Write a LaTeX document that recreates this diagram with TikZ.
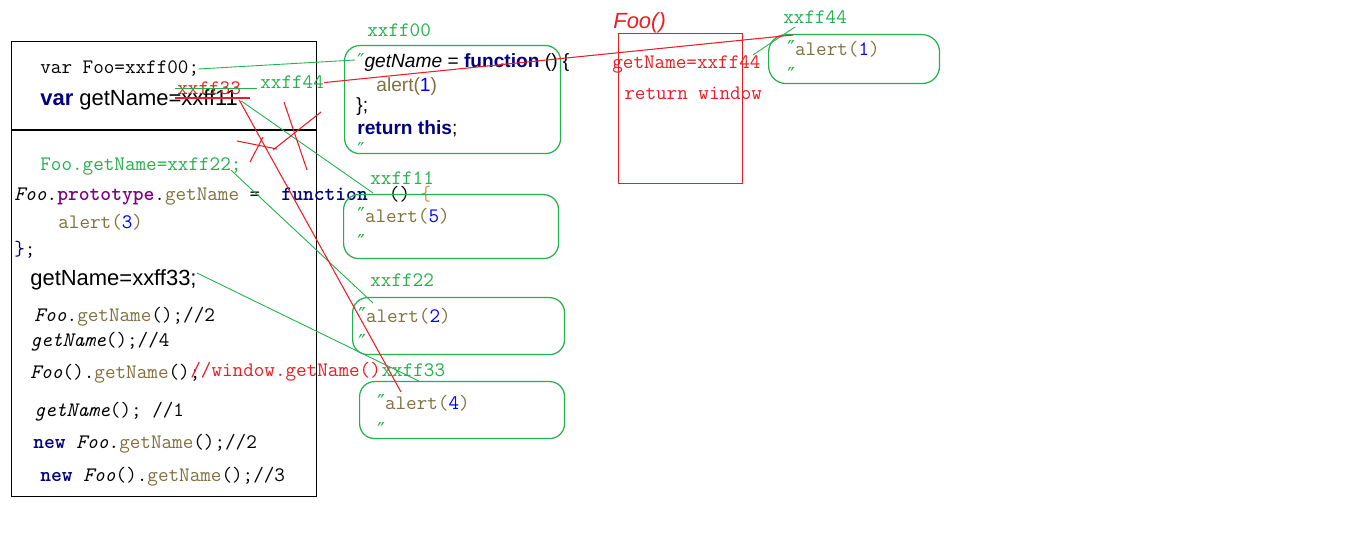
\documentclass[tikz,border=0pt]{standalone}
\usepackage{fontspec}
\setsansfont{Liberation Sans}
\newfontfamily\symfont{DejaVu Sans}
\usepackage{xcolor}
\usepackage{tikz}
\usetikzlibrary{calc,positioning}

\definecolor{lgreen}{RGB}{34,177,76}
\definecolor{lred}{RGB}{237,28,36}
\definecolor{kwnavy}{RGB}{0,0,128}
\definecolor{alertbrown}{RGB}{128,112,64}
\definecolor{protopurple}{RGB}{128,0,128}
\definecolor{numblue}{RGB}{0,0,255}
\definecolor{braceorange}{RGB}{225,140,60}

\newcommand\dquo{\textcolor{lgreen}{\symfont ″}}
\newcommand\alertcall[1]{\textcolor{alertbrown}{alert(}\textcolor{numblue}{#1}\textcolor{alertbrown}{)}}

\tikzset{
  codetext/.style={inner sep=0pt, anchor=base west, font=\ttfamily\fontsize{11.7}{14}\selectfont},
  sanstext/.style={inner sep=0pt, anchor=base west, font=\sffamily\fontsize{12.5}{15}\selectfont},
  boxtext/.style={inner sep=0pt, anchor=base west, font=\sffamily\fontsize{10.9}{13}\selectfont},
  addrtext/.style={codetext, text=lgreen},
  redtext/.style={codetext, text=lred},
  membox/.style={draw=lgreen, line width=0.7pt, rounded corners=0.3cm, anchor=north west, inner sep=0pt},
  greenlink/.style={draw=lgreen, line width=0.5pt},
  redlink/.style={draw=lred, line width=0.6pt},
}

\begin{document}
\begin{tikzpicture}[x=0.02cm, y=-0.02cm]
    \useasboundingbox (0,0) rectangle (1360,540);

    % Scope box
    \node[draw, line width=0.6pt, anchor=north west, inner sep=0pt, minimum width=6.1cm, minimum height=9.1cm] (scopebox) at (11,41) {};
    \draw[line width=0.6pt] ([shift={(0,89)}]scopebox.north west) -- ([shift={(0,89)}]scopebox.north east);

    \node[codetext] (foo) at (40,74) {var Foo=xxff00;};
    \node[sanstext] (gn11) at (40,106) {\textbf{\textcolor{kwnavy}{var}} getName=xxff11};
    \node[redtext] (lab33r) at (177,95) {xxff33};
    \node[addrtext] (lab44g) at (260,89) {xxff44};

    \node[addrtext] (foo22) at (40,171) {Foo.getName=xxff22;};
    \node[codetext] (proto) at (14,201) {\textit{Foo}.\textbf{\textcolor{protopurple}{prototype}}.\textcolor{alertbrown}{getName}~=~~\textbf{\textcolor{kwnavy}{function}}~~()~\textcolor{braceorange}{\{}};
    \node[codetext] (alert3) at (58,229) {\alertcall{3}};
    \node[codetext] (close3) at (14,256) {\textcolor{kwnavy}{\}};};
    \node[sanstext] (gn33) at (30,286) {getName=xxff33;};
    \node[codetext] (call2) at (34,322) {\textit{Foo}.\textcolor{alertbrown}{getName}();//2};
    \node[codetext] (call4) at (30,347) {\textit{getName}();//4};
    \node[codetext] (call3) at (30,379) {\textit{Foo}().\textcolor{alertbrown}{getName}();};
    \node[redtext] (win) at (190,377) {//window.getName()};
    \node[addrtext] (lab33) at (win.base east) {xxff33};
    \node[codetext] (call1) at (34,417) {\textit{getName}();~//1};
    \node[codetext] (call5) at (33,449) {\textbf{\textcolor{kwnavy}{new}}~\textit{Foo}.\textcolor{alertbrown}{getName}();//2};
    \node[codetext] (call6) at (40,482) {\textbf{\textcolor{kwnavy}{new}}~\textit{Foo}().\textcolor{alertbrown}{getName}();//3};

    % Memory boxes
    \node[membox, minimum width=4.32cm, minimum height=2.16cm] (b00) at (344,45) {};
    \node[addrtext] (lab00) at (367,37) {xxff00};
    \node[boxtext] (l00a) at (357,68) {\dquo\textit{getName} = \textbf{\textcolor{kwnavy}{function}} () \{};
    \node[boxtext] (l00b) at (376,92) {\alertcall{1}};
    \node[boxtext] (l00c) at (356,112) {\};};
    \node[boxtext] (l00d) at (357,135) {\textbf{\textcolor{kwnavy}{return this}};};
    \node[boxtext] (l00e) at (357,157) {\dquo};

    \node[membox, minimum width=4.3cm, minimum height=1.28cm] (b11) at (343,194) {};
    \node[addrtext] (lab11) at (370,185) {xxff11};
    \node[codetext] (a5) at (357,223) {\dquo\alertcall{5}};
    \node[codetext] (a5e) at (357,250) {\dquo};

    \node[membox, minimum width=4.24cm, minimum height=1.14cm] (b22) at (352,297) {};
    \node[addrtext] (lab22) at (370,287) {xxff22};
    \node[codetext] (a2) at (358,323) {\dquo\alertcall{2}};
    \node[codetext] (a2e) at (358,350) {\dquo};

    \node[membox, minimum width=4.1cm, minimum height=1.14cm] (b33) at (359,381) {};
    \node[codetext] (a4) at (377,410) {\dquo\alertcall{4}};
    \node[codetext] (a4e) at (377,438) {\dquo};

    \node[membox, rounded corners=0.35cm, minimum width=3.42cm, minimum height=0.98cm] (b44) at (768,34) {};
    \node[addrtext] (lab44b) at (783,24) {xxff44};
    \node[codetext] (a1) at (787,56) {\dquo\alertcall{1}};
    \node[codetext] (a1e) at (787,83) {\dquo};

    % Foo() frame
    \node[draw=lred, line width=0.6pt, anchor=north west, inner sep=0pt, minimum width=2.48cm, minimum height=3cm] (fooframe) at (618,33) {};
    \node[inner sep=0pt, anchor=base west, text=lred, font=\sffamily\itshape\fontsize{12.5}{15}\selectfont] (foocall) at (613,29) {Foo()};
    \node[redtext] (gx44) at (612,69) {getName=xxff44};
    \node[redtext] (retw) at (624,100) {return window};

    % Links
    \draw[greenlink] ([shift={(-1,-5)}]foo.base east) -- ([shift={(-2,-8)}]l00a.base west);
    \draw[greenlink] ([shift={(-2,-7)}]lab33r.base west) -- ([shift={(-3,-1)}]lab44g.base west);
    \draw[greenlink] ([shift={(3,-5)}]gn11.base east) -- ([shift={(3,8)}]lab11.base west);
    \draw[greenlink] ([shift={(-11,-1)}]foo22.base east) -- ([shift={(15,-20)}]a2.base west);
    \draw[greenlink] ([shift={(0,-13)}]gn33.base east) -- ([xshift=34]b33.north west);
    \draw[greenlink] ([shift={(-8,-14)}]gx44.base east) -- ([shift={(12,3)}]lab44b.base west);

    \draw[redlink] ([shift={(-2,3)}]lab33r.base west) -- ([shift={(73,3)}]lab33r.base west);
    \draw[redlink] ([shift={(-2,5)}]lab33r.base east) -- ([shift={(24,-18)}]a4.base west);
    \draw[redlink] (lab44g.east) -- ([shift={(25,1)}]b44.north west);

    % Cross marks
    \draw[redlink] (237,141) -- (277,149);
    \draw[redlink] (250,162) -- (263,137);
    \draw[redlink] (273,150) -- (321,112);
    \draw[redlink] (284,102) -- (307,170);

\end{tikzpicture}
\end{document}
